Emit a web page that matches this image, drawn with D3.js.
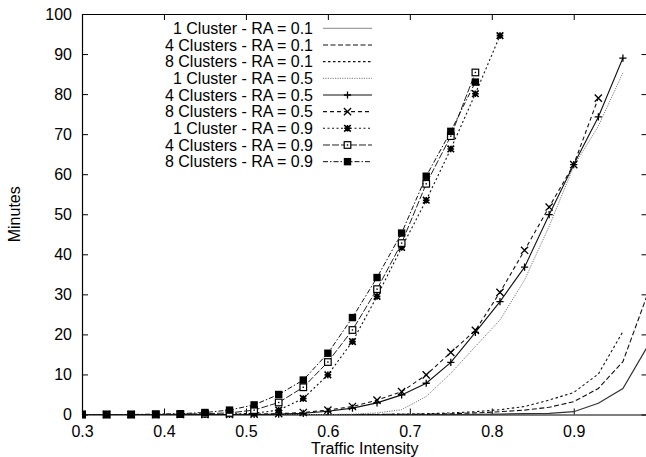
<!DOCTYPE html>
<html>
<head>
<meta charset="utf-8">
<script src="https://cdn.jsdelivr.net/npm/d3@7"></script>
<style>
  html, body { margin: 0; padding: 0; background: #fff; }
  svg { display: block; }
  text { font-family: "Liberation Sans", Arial, Helvetica, sans-serif; fill: #000; }
</style>
</head>
<body>
<svg id="chart" width="646" height="457"></svg>
<script>
// Traffic intensity sampled every 0.03
const intensity = [0.30, 0.33, 0.36, 0.39, 0.42, 0.45, 0.48, 0.51, 0.54, 0.57, 0.60, 0.63,
                   0.66, 0.69, 0.72, 0.75, 0.78, 0.81, 0.84, 0.87, 0.90, 0.93, 0.96, 0.99];

// Minutes for each configuration (value i belongs to intensity[i])
const c1_ra01 = [0, 0, 0, 0, 0, 0, 0, 0, 0, 0, 0, 0, 0, 0, 0, 0, 0.05, 0.1, 0.2, 0.3, 0.7, 2.8, 6.5, 17.0];
const c4_ra01 = [0, 0, 0, 0, 0, 0, 0, 0, 0, 0, 0, 0, 0, 0.05, 0.1, 0.2, 0.4, 0.7, 1.1, 1.8, 3.2, 6.5, 13.2, 30.0];
const c8_ra01 = [0, 0, 0, 0, 0, 0, 0, 0, 0, 0, 0, 0, 0.05, 0.1, 0.2, 0.4, 0.7, 1.2, 2.0, 3.6, 5.5, 10.1, 20.7];
const c1_ra05 = [0, 0, 0, 0, 0, 0, 0, 0, 0, 0, 0, 0.1, 0.4, 1.2, 4.5, 10.3, 17.0, 23.6, 33.6, 47.0, 62.0, 72.0, 85.3];
const c4_ra05 = [0, 0, 0, 0, 0, 0, 0, 0, 0.1, 0.3, 0.8, 1.6, 2.9, 4.9, 7.8, 13.0, 20.5, 28.2, 36.8, 49.9, 62.4, 74.3, 89.0];
const c8_ra05 = [0, 0, 0, 0, 0, 0, 0, 0.1, 0.2, 0.5, 1.1, 2.0, 3.6, 5.7, 9.9, 15.5, 21.0, 30.5, 41.0, 51.8, 62.4, 79.0];
const c1_ra09 = [0, 0, 0, 0, 0, 0, 0.1, 0.3, 1.1, 4.0, 9.9, 18.2, 29.5, 41.7, 53.5, 66.3, 80.1, 94.6];
const c4_ra09 = [0, 0, 0, 0, 0.1, 0.2, 0.4, 1.1, 3.0, 6.8, 13.1, 21.1, 31.3, 42.8, 57.6, 69.5, 85.4];
const c8_ra09 = [0, 0, 0, 0.1, 0.2, 0.5, 1.1, 2.4, 5.0, 8.6, 15.3, 24.2, 34.2, 45.3, 59.5, 70.7, 83.0];

const seriesLabels = [
  "1 Cluster - RA = 0.1", "4 Clusters - RA = 0.1", "8 Clusters - RA = 0.1",
  "1 Cluster - RA = 0.5", "4 Clusters - RA = 0.5", "8 Clusters - RA = 0.5",
  "1 Cluster - RA = 0.9", "4 Clusters - RA = 0.9", "8 Clusters - RA = 0.9"
];
const seriesValues = [c1_ra01, c4_ra01, c8_ra01, c1_ra05, c4_ra05, c8_ra05, c1_ra09, c4_ra09, c8_ra09];

const xTicks = [0.3, 0.4, 0.5, 0.6, 0.7, 0.8, 0.9];
const yTicks = [0, 10, 20, 30, 40, 50, 60, 70, 80, 90, 100];
const xTitle = "Traffic Intensity";
const yTitle = "Minutes";

// line style and point marker per series
const styles = [
  { dash: null,          color: "#333", width: 1.2, marker: null },
  { dash: "5,2.5",       color: "#111", width: 1.1, marker: null },
  { dash: "2.5,2.5",     color: "#111", width: 1.1, marker: null },
  { dash: "1.2,1.2",     color: "#777", width: 1.0, marker: null },
  { dash: null,          color: "#111", width: 1.1, marker: "plus" },
  { dash: "4,3",         color: "#111", width: 1.1, marker: "times" },
  { dash: "2,2.5",       color: "#111", width: 1.1, marker: "star" },
  { dash: "7,2",         color: "#222", width: 1.0, marker: "openSquare" },
  { dash: "5,2,1.5,2",   color: "#111", width: 1.0, marker: "filledSquare" }
];

const svg = d3.select("#chart");
const plotL = 82, plotR = 647.5, plotT = 14, plotB = 414.5;

const x = d3.scaleLinear().domain([0.3, 0.99]).range([plotL, plotR]);
const y = d3.scaleLinear().domain([0, 100]).range([plotB, plotT]);

// axes with inward ticks on all four sides
svg.append("g").attr("transform", `translate(0,${plotB})`)
  .call(d3.axisBottom(x).tickValues(xTicks).tickFormat(d3.format(".1f"))
        .tickSizeInner(-6).tickSizeOuter(0).tickPadding(10.8));
svg.append("g").attr("transform", `translate(${plotL},0)`)
  .call(d3.axisLeft(y).tickValues(yTicks).tickFormat(d3.format("d"))
        .tickSizeInner(-6).tickSizeOuter(0).tickPadding(10));
svg.append("g").attr("transform", `translate(0,${plotT})`)
  .call(d3.axisTop(x).tickValues(xTicks).tickFormat("")
        .tickSizeInner(-6).tickSizeOuter(0));
svg.append("g").attr("transform", `translate(${plotR},0)`)
  .call(d3.axisRight(y).tickValues(yTicks).tickFormat("")
        .tickSizeInner(-6).tickSizeOuter(0));

svg.selectAll(".domain").attr("stroke", "#000").attr("stroke-width", 1.2);
svg.selectAll(".tick line").attr("stroke", "#000").attr("stroke-width", 1);
svg.selectAll(".tick text")
  .style("font-family", "'Liberation Sans', Arial, sans-serif")
  .style("font-size", "16px").attr("fill", "#000");

svg.append("text").attr("x", (plotL + plotR) / 2).attr("y", 453.5)
  .attr("text-anchor", "middle").style("font-size", "16px").text(xTitle);
svg.append("text").attr("transform", `translate(20,${(plotT + plotB) / 2}) rotate(-90)`)
  .attr("text-anchor", "middle").style("font-size", "16px").text(yTitle);

// marker drawing
function drawMarker(g, type, cx, cy, color) {
  const s = 3.6;
  if (type === "plus") {
    g.append("path").attr("d", `M${cx - s},${cy}H${cx + s}M${cx},${cy - s}V${cy + s}`)
      .attr("stroke", color).attr("stroke-width", 1.3).attr("fill", "none");
  } else if (type === "times") {
    g.append("path").attr("d", `M${cx - s},${cy - s}L${cx + s},${cy + s}M${cx - s},${cy + s}L${cx + s},${cy - s}`)
      .attr("stroke", color).attr("stroke-width", 1.3).attr("fill", "none");
  } else if (type === "star") {
    const t = 3.3;
    g.append("path").attr("d",
      `M${cx - t},${cy}H${cx + t}M${cx},${cy - t}V${cy + t}M${cx - t},${cy - t}L${cx + t},${cy + t}M${cx - t},${cy + t}L${cx + t},${cy - t}`)
      .attr("stroke", color).attr("stroke-width", 1.6).attr("fill", "none");
  } else if (type === "openSquare") {
    g.append("rect").attr("x", cx - 3.3).attr("y", cy - 3.3).attr("width", 6.6).attr("height", 6.6)
      .attr("fill", "#fff").attr("stroke", color).attr("stroke-width", 1.2);
    g.append("rect").attr("x", cx - 0.7).attr("y", cy - 0.7).attr("width", 1.4).attr("height", 1.4)
      .attr("fill", color);
  } else if (type === "filledSquare") {
    g.append("rect").attr("x", cx - 3.7).attr("y", cy - 3.7).attr("width", 7.4).attr("height", 7.4)
      .attr("fill", color);
  }
}

svg.append("clipPath").attr("id", "plotClip").append("rect")
  .attr("x", plotL).attr("y", plotT - 6).attr("width", plotR - plotL + 2).attr("height", plotB - plotT + 12);

const plot = svg.append("g").attr("clip-path", "url(#plotClip)");
const line = d3.line().x(d => x(d[0])).y(d => y(d[1]));

seriesValues.forEach((vals, i) => {
  const st = styles[i];
  const pts = vals.map((v, j) => [intensity[j], v]);
  plot.append("path").datum(pts)
    .attr("d", line).attr("fill", "none")
    .attr("stroke", st.color).attr("stroke-width", st.width)
    .attr("stroke-dasharray", st.dash);
  if (st.marker) {
    const mg = plot.append("g");
    pts.forEach(p => drawMarker(mg, st.marker, x(p[0]), y(p[1]), "#000"));
  }
});

// legend
const legend = svg.append("g");
const rowH = 16.67, row0 = 28.3;
seriesLabels.forEach((lab, i) => {
  const st = styles[i];
  const cy = row0 + i * rowH;
  legend.append("text").attr("x", 313).attr("y", cy + 5.6)
    .attr("text-anchor", "end").style("font-size", "16px").text(lab);
  legend.append("line").attr("x1", 323).attr("x2", 372).attr("y1", cy).attr("y2", cy)
    .attr("stroke", i === 0 ? "#888" : st.color).attr("stroke-width", i === 0 ? 1.0 : st.width)
    .attr("stroke-dasharray", st.dash);
  if (st.marker) drawMarker(legend, st.marker, 347.5, cy, "#000");
});
</script>
</body>
</html>
